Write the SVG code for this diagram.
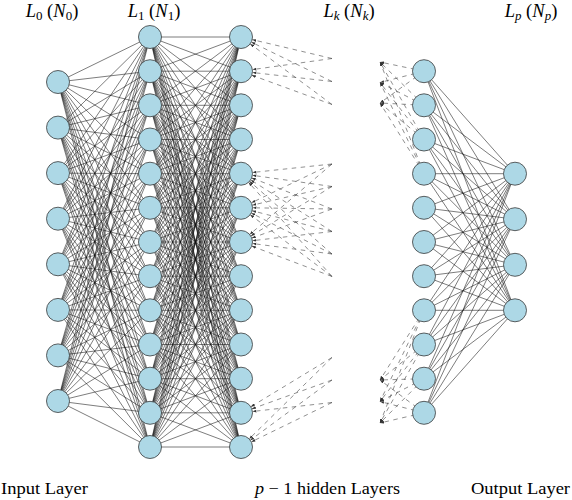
<svg xmlns="http://www.w3.org/2000/svg" width="572" height="500" viewBox="0 0 572 500">
<style>
.n{fill:#ADD8E6;stroke:#3a3a3a;stroke-width:0.8}
.e{fill:none;stroke:#111;stroke-width:0.55}
.d{fill:none;stroke:#333;stroke-width:0.55;stroke-dasharray:4.5 4.5;marker-end:url(#ah)}
.t{font-family:"Liberation Serif","DejaVu Serif",serif;font-size:18.5px;fill:#000}
.b{font-size:17px}
.i{font-style:italic}
.s{font-size:13px}
</style>
<defs>
<marker id="ah" viewBox="0 0 10 10" refX="10" refY="5" markerWidth="4" markerHeight="4" orient="auto" markerUnits="userSpaceOnUse"><path d="M0,1.5 L10,5 L0,8.5 z" fill="#333"/></marker>
</defs>
<rect width="572" height="500" fill="#fff"/>
<g id="connectors">
<g id="l0-l1">
<path class="e" d="M58 82L150 37M58 82L150 71.2M58 82L150 105.3M58 82L150 139.5M58 82L150 173.7M58 82L150 207.8M58 82L150 242M58 82L150 276.2M58 82L150 310.3M58 82L150 344.5M58 82L150 378.7M58 82L150 412.8M58 82L150 447"/>
<path class="e" d="M58 127.6L150 37M58 127.6L150 71.2M58 127.6L150 105.3M58 127.6L150 139.5M58 127.6L150 173.7M58 127.6L150 207.8M58 127.6L150 242M58 127.6L150 276.2M58 127.6L150 310.3M58 127.6L150 344.5M58 127.6L150 378.7M58 127.6L150 412.8M58 127.6L150 447"/>
<path class="e" d="M58 173.1L150 37M58 173.1L150 71.2M58 173.1L150 105.3M58 173.1L150 139.5M58 173.1L150 173.7M58 173.1L150 207.8M58 173.1L150 242M58 173.1L150 276.2M58 173.1L150 310.3M58 173.1L150 344.5M58 173.1L150 378.7M58 173.1L150 412.8M58 173.1L150 447"/>
<path class="e" d="M58 218.7L150 37M58 218.7L150 71.2M58 218.7L150 105.3M58 218.7L150 139.5M58 218.7L150 173.7M58 218.7L150 207.8M58 218.7L150 242M58 218.7L150 276.2M58 218.7L150 310.3M58 218.7L150 344.5M58 218.7L150 378.7M58 218.7L150 412.8M58 218.7L150 447"/>
<path class="e" d="M58 264.3L150 37M58 264.3L150 71.2M58 264.3L150 105.3M58 264.3L150 139.5M58 264.3L150 173.7M58 264.3L150 207.8M58 264.3L150 242M58 264.3L150 276.2M58 264.3L150 310.3M58 264.3L150 344.5M58 264.3L150 378.7M58 264.3L150 412.8M58 264.3L150 447"/>
<path class="e" d="M58 309.9L150 37M58 309.9L150 71.2M58 309.9L150 105.3M58 309.9L150 139.5M58 309.9L150 173.7M58 309.9L150 207.8M58 309.9L150 242M58 309.9L150 276.2M58 309.9L150 310.3M58 309.9L150 344.5M58 309.9L150 378.7M58 309.9L150 412.8M58 309.9L150 447"/>
<path class="e" d="M58 355.4L150 37M58 355.4L150 71.2M58 355.4L150 105.3M58 355.4L150 139.5M58 355.4L150 173.7M58 355.4L150 207.8M58 355.4L150 242M58 355.4L150 276.2M58 355.4L150 310.3M58 355.4L150 344.5M58 355.4L150 378.7M58 355.4L150 412.8M58 355.4L150 447"/>
<path class="e" d="M58 401L150 37M58 401L150 71.2M58 401L150 105.3M58 401L150 139.5M58 401L150 173.7M58 401L150 207.8M58 401L150 242M58 401L150 276.2M58 401L150 310.3M58 401L150 344.5M58 401L150 378.7M58 401L150 412.8M58 401L150 447"/>
</g>
<g id="l1-l2">
<path class="e" d="M150 37L241 37M150 37L241 71.2M150 37L241 105.3M150 37L241 139.5M150 37L241 173.7M150 37L241 207.8M150 37L241 242M150 37L241 276.2M150 37L241 310.3M150 37L241 344.5M150 37L241 378.7M150 37L241 412.8M150 37L241 447"/>
<path class="e" d="M150 71.2L241 37M150 71.2L241 71.2M150 71.2L241 105.3M150 71.2L241 139.5M150 71.2L241 173.7M150 71.2L241 207.8M150 71.2L241 242M150 71.2L241 276.2M150 71.2L241 310.3M150 71.2L241 344.5M150 71.2L241 378.7M150 71.2L241 412.8M150 71.2L241 447"/>
<path class="e" d="M150 105.3L241 37M150 105.3L241 71.2M150 105.3L241 105.3M150 105.3L241 139.5M150 105.3L241 173.7M150 105.3L241 207.8M150 105.3L241 242M150 105.3L241 276.2M150 105.3L241 310.3M150 105.3L241 344.5M150 105.3L241 378.7M150 105.3L241 412.8M150 105.3L241 447"/>
<path class="e" d="M150 139.5L241 37M150 139.5L241 71.2M150 139.5L241 105.3M150 139.5L241 139.5M150 139.5L241 173.7M150 139.5L241 207.8M150 139.5L241 242M150 139.5L241 276.2M150 139.5L241 310.3M150 139.5L241 344.5M150 139.5L241 378.7M150 139.5L241 412.8M150 139.5L241 447"/>
<path class="e" d="M150 173.7L241 37M150 173.7L241 71.2M150 173.7L241 105.3M150 173.7L241 139.5M150 173.7L241 173.7M150 173.7L241 207.8M150 173.7L241 242M150 173.7L241 276.2M150 173.7L241 310.3M150 173.7L241 344.5M150 173.7L241 378.7M150 173.7L241 412.8M150 173.7L241 447"/>
<path class="e" d="M150 207.8L241 37M150 207.8L241 71.2M150 207.8L241 105.3M150 207.8L241 139.5M150 207.8L241 173.7M150 207.8L241 207.8M150 207.8L241 242M150 207.8L241 276.2M150 207.8L241 310.3M150 207.8L241 344.5M150 207.8L241 378.7M150 207.8L241 412.8M150 207.8L241 447"/>
<path class="e" d="M150 242L241 37M150 242L241 71.2M150 242L241 105.3M150 242L241 139.5M150 242L241 173.7M150 242L241 207.8M150 242L241 242M150 242L241 276.2M150 242L241 310.3M150 242L241 344.5M150 242L241 378.7M150 242L241 412.8M150 242L241 447"/>
<path class="e" d="M150 276.2L241 37M150 276.2L241 71.2M150 276.2L241 105.3M150 276.2L241 139.5M150 276.2L241 173.7M150 276.2L241 207.8M150 276.2L241 242M150 276.2L241 276.2M150 276.2L241 310.3M150 276.2L241 344.5M150 276.2L241 378.7M150 276.2L241 412.8M150 276.2L241 447"/>
<path class="e" d="M150 310.3L241 37M150 310.3L241 71.2M150 310.3L241 105.3M150 310.3L241 139.5M150 310.3L241 173.7M150 310.3L241 207.8M150 310.3L241 242M150 310.3L241 276.2M150 310.3L241 310.3M150 310.3L241 344.5M150 310.3L241 378.7M150 310.3L241 412.8M150 310.3L241 447"/>
<path class="e" d="M150 344.5L241 37M150 344.5L241 71.2M150 344.5L241 105.3M150 344.5L241 139.5M150 344.5L241 173.7M150 344.5L241 207.8M150 344.5L241 242M150 344.5L241 276.2M150 344.5L241 310.3M150 344.5L241 344.5M150 344.5L241 378.7M150 344.5L241 412.8M150 344.5L241 447"/>
<path class="e" d="M150 378.7L241 37M150 378.7L241 71.2M150 378.7L241 105.3M150 378.7L241 139.5M150 378.7L241 173.7M150 378.7L241 207.8M150 378.7L241 242M150 378.7L241 276.2M150 378.7L241 310.3M150 378.7L241 344.5M150 378.7L241 378.7M150 378.7L241 412.8M150 378.7L241 447"/>
<path class="e" d="M150 412.8L241 37M150 412.8L241 71.2M150 412.8L241 105.3M150 412.8L241 139.5M150 412.8L241 173.7M150 412.8L241 207.8M150 412.8L241 242M150 412.8L241 276.2M150 412.8L241 310.3M150 412.8L241 344.5M150 412.8L241 378.7M150 412.8L241 412.8M150 412.8L241 447"/>
<path class="e" d="M150 447L241 37M150 447L241 71.2M150 447L241 105.3M150 447L241 139.5M150 447L241 173.7M150 447L241 207.8M150 447L241 242M150 447L241 276.2M150 447L241 310.3M150 447L241 344.5M150 447L241 378.7M150 447L241 412.8M150 447L241 447"/>
</g>
<g id="l2-hidden">
<path class="d" d="M332 58.5L252.2 39.6"/>
<path class="d" d="M332 81.5L251.3 42.1"/>
<path class="d" d="M332 104.5L250.2 43.9"/>
<path class="d" d="M332 58.5L252.4 69.6"/>
<path class="d" d="M332 81.5L252.4 72.5"/>
<path class="d" d="M332 104.5L251.8 75.2"/>
<path class="d" d="M332 164L252.4 172.5"/>
<path class="d" d="M332 186.5L252.4 175.3"/>
<path class="d" d="M332 209L251.7 177.9"/>
<path class="d" d="M332 231.5L250.7 179.9"/>
<path class="d" d="M332 254L249.6 181.3"/>
<path class="d" d="M332 276.5L248.6 182.3"/>
<path class="d" d="M332 164L251.4 202.8"/>
<path class="d" d="M332 186.5L252.2 205.2"/>
<path class="d" d="M332 209L252.5 207.8"/>
<path class="d" d="M332 231.5L252.1 210.7"/>
<path class="d" d="M332 254L251.2 213"/>
<path class="d" d="M332 276.5L250.2 214.7"/>
<path class="d" d="M332 164L249.7 234.5"/>
<path class="d" d="M332 186.5L250.8 236"/>
<path class="d" d="M332 209L251.8 238.1"/>
<path class="d" d="M332 231.5L252.4 240.7"/>
<path class="d" d="M332 254L252.4 243.5"/>
<path class="d" d="M332 276.5L251.8 246.1"/>
<path class="d" d="M332 357.5L250.8 406.8"/>
<path class="d" d="M332 380L251.8 408.9"/>
<path class="d" d="M332 402.5L252.4 411.5"/>
<path class="d" d="M332 357.5L249.2 438.9"/>
<path class="d" d="M332 380L250.3 440.2"/>
<path class="d" d="M332 402.5L251.3 441.9"/>
</g>
<g id="hidden-lk">
<path class="d" d="M424 71.2L380 62"/>
<path class="d" d="M424 71.2L380 82.5"/>
<path class="d" d="M424 71.2L380 103"/>
<path class="d" d="M424 105.3L380 62"/>
<path class="d" d="M424 105.3L380 82.5"/>
<path class="d" d="M424 105.3L380 103"/>
<path class="d" d="M424 139.5L380 62"/>
<path class="d" d="M424 139.5L380 82.5"/>
<path class="d" d="M424 139.5L380 103"/>
<path class="d" d="M424 173.7L380 62"/>
<path class="d" d="M424 173.7L380 82.5"/>
<path class="d" d="M424 173.7L380 103"/>
<path class="d" d="M424 310.3L380 380"/>
<path class="d" d="M424 310.3L380 401.5"/>
<path class="d" d="M424 310.3L380 423"/>
<path class="d" d="M424 344.5L380 380"/>
<path class="d" d="M424 344.5L380 401.5"/>
<path class="d" d="M424 344.5L380 423"/>
<path class="d" d="M424 378.7L380 380"/>
<path class="d" d="M424 378.7L380 401.5"/>
<path class="d" d="M424 378.7L380 423"/>
<path class="d" d="M424 412.8L380 380"/>
<path class="d" d="M424 412.8L380 401.5"/>
<path class="d" d="M424 412.8L380 423"/>
</g>
<g id="lk-lp">
<path class="e" d="M424 71.2L515 173.7M424 71.2L515 219.2M424 71.2L515 264.8M424 71.2L515 310.3"/>
<path class="e" d="M424 105.3L515 173.7M424 105.3L515 219.2M424 105.3L515 264.8M424 105.3L515 310.3"/>
<path class="e" d="M424 139.5L515 173.7M424 139.5L515 219.2M424 139.5L515 264.8M424 139.5L515 310.3"/>
<path class="e" d="M424 173.7L515 173.7M424 173.7L515 219.2M424 173.7L515 264.8M424 173.7L515 310.3"/>
<path class="e" d="M424 207.8L515 173.7M424 207.8L515 219.2M424 207.8L515 264.8M424 207.8L515 310.3"/>
<path class="e" d="M424 242L515 173.7M424 242L515 219.2M424 242L515 264.8M424 242L515 310.3"/>
<path class="e" d="M424 276.2L515 173.7M424 276.2L515 219.2M424 276.2L515 264.8M424 276.2L515 310.3"/>
<path class="e" d="M424 310.3L515 173.7M424 310.3L515 219.2M424 310.3L515 264.8M424 310.3L515 310.3"/>
<path class="e" d="M424 344.5L515 173.7M424 344.5L515 219.2M424 344.5L515 264.8M424 344.5L515 310.3"/>
<path class="e" d="M424 378.7L515 173.7M424 378.7L515 219.2M424 378.7L515 264.8M424 378.7L515 310.3"/>
<path class="e" d="M424 412.8L515 173.7M424 412.8L515 219.2M424 412.8L515 264.8M424 412.8L515 310.3"/>
</g>
</g>
<g id="layer0">
<g id="n0-1"><circle class="n" cx="58" cy="82" r="11.5"/></g>
<g id="n0-2"><circle class="n" cx="58" cy="127.6" r="11.5"/></g>
<g id="n0-3"><circle class="n" cx="58" cy="173.1" r="11.5"/></g>
<g id="n0-4"><circle class="n" cx="58" cy="218.7" r="11.5"/></g>
<g id="n0-5"><circle class="n" cx="58" cy="264.3" r="11.5"/></g>
<g id="n0-6"><circle class="n" cx="58" cy="309.9" r="11.5"/></g>
<g id="n0-7"><circle class="n" cx="58" cy="355.4" r="11.5"/></g>
<g id="n0-8"><circle class="n" cx="58" cy="401" r="11.5"/></g>
</g>
<g id="layer1">
<g id="n1-1"><circle class="n" cx="150" cy="37" r="11.5"/></g>
<g id="n1-2"><circle class="n" cx="150" cy="71.2" r="11.5"/></g>
<g id="n1-3"><circle class="n" cx="150" cy="105.3" r="11.5"/></g>
<g id="n1-4"><circle class="n" cx="150" cy="139.5" r="11.5"/></g>
<g id="n1-5"><circle class="n" cx="150" cy="173.7" r="11.5"/></g>
<g id="n1-6"><circle class="n" cx="150" cy="207.8" r="11.5"/></g>
<g id="n1-7"><circle class="n" cx="150" cy="242" r="11.5"/></g>
<g id="n1-8"><circle class="n" cx="150" cy="276.2" r="11.5"/></g>
<g id="n1-9"><circle class="n" cx="150" cy="310.3" r="11.5"/></g>
<g id="n1-10"><circle class="n" cx="150" cy="344.5" r="11.5"/></g>
<g id="n1-11"><circle class="n" cx="150" cy="378.7" r="11.5"/></g>
<g id="n1-12"><circle class="n" cx="150" cy="412.8" r="11.5"/></g>
<g id="n1-13"><circle class="n" cx="150" cy="447" r="11.5"/></g>
</g>
<g id="layer2">
<g id="n2-1"><circle class="n" cx="241" cy="37" r="11.5"/></g>
<g id="n2-2"><circle class="n" cx="241" cy="71.2" r="11.5"/></g>
<g id="n2-3"><circle class="n" cx="241" cy="105.3" r="11.5"/></g>
<g id="n2-4"><circle class="n" cx="241" cy="139.5" r="11.5"/></g>
<g id="n2-5"><circle class="n" cx="241" cy="173.7" r="11.5"/></g>
<g id="n2-6"><circle class="n" cx="241" cy="207.8" r="11.5"/></g>
<g id="n2-7"><circle class="n" cx="241" cy="242" r="11.5"/></g>
<g id="n2-8"><circle class="n" cx="241" cy="276.2" r="11.5"/></g>
<g id="n2-9"><circle class="n" cx="241" cy="310.3" r="11.5"/></g>
<g id="n2-10"><circle class="n" cx="241" cy="344.5" r="11.5"/></g>
<g id="n2-11"><circle class="n" cx="241" cy="378.7" r="11.5"/></g>
<g id="n2-12"><circle class="n" cx="241" cy="412.8" r="11.5"/></g>
<g id="n2-13"><circle class="n" cx="241" cy="447" r="11.5"/></g>
</g>
<g id="layerk">
<g id="nk-1"><circle class="n" cx="424" cy="71.2" r="11.5"/></g>
<g id="nk-2"><circle class="n" cx="424" cy="105.3" r="11.5"/></g>
<g id="nk-3"><circle class="n" cx="424" cy="139.5" r="11.5"/></g>
<g id="nk-4"><circle class="n" cx="424" cy="173.7" r="11.5"/></g>
<g id="nk-5"><circle class="n" cx="424" cy="207.8" r="11.5"/></g>
<g id="nk-6"><circle class="n" cx="424" cy="242" r="11.5"/></g>
<g id="nk-7"><circle class="n" cx="424" cy="276.2" r="11.5"/></g>
<g id="nk-8"><circle class="n" cx="424" cy="310.3" r="11.5"/></g>
<g id="nk-9"><circle class="n" cx="424" cy="344.5" r="11.5"/></g>
<g id="nk-10"><circle class="n" cx="424" cy="378.7" r="11.5"/></g>
<g id="nk-11"><circle class="n" cx="424" cy="412.8" r="11.5"/></g>
</g>
<g id="layerp">
<g id="np-1"><circle class="n" cx="515" cy="173.7" r="11.5"/></g>
<g id="np-2"><circle class="n" cx="515" cy="219.2" r="11.5"/></g>
<g id="np-3"><circle class="n" cx="515" cy="264.8" r="11.5"/></g>
<g id="np-4"><circle class="n" cx="515" cy="310.3" r="11.5"/></g>
</g>
<g id="labels">
<text class="t" x="52" y="17" text-anchor="middle"><tspan class="i">L</tspan><tspan class="s" dy="3">0</tspan><tspan dy="-3"> (</tspan><tspan class="i">N</tspan><tspan class="s" dy="3">0</tspan><tspan dy="-3">)</tspan></text>
<text class="t" x="154" y="17" text-anchor="middle"><tspan class="i">L</tspan><tspan class="s" dy="3">1</tspan><tspan dy="-3"> (</tspan><tspan class="i">N</tspan><tspan class="s" dy="3">1</tspan><tspan dy="-3">)</tspan></text>
<text class="t" x="349" y="17" text-anchor="middle"><tspan class="i">L</tspan><tspan class="s i" dy="3">k</tspan><tspan dy="-3"> (</tspan><tspan class="i">N</tspan><tspan class="s i" dy="3">k</tspan><tspan dy="-3">)</tspan></text>
<text class="t" x="531" y="17" text-anchor="middle"><tspan class="i">L</tspan><tspan class="s i" dy="3">p</tspan><tspan dy="-3"> (</tspan><tspan class="i">N</tspan><tspan class="s i" dy="3">p</tspan><tspan dy="-3">)</tspan></text>
<text class="t b" x="1" y="494" textLength="87" lengthAdjust="spacingAndGlyphs">Input Layer</text>
<text class="t b" x="255" y="494" textLength="145" lengthAdjust="spacingAndGlyphs"><tspan class="i">p</tspan> − 1 hidden Layers</text>
<text class="t b" x="471" y="494" textLength="99" lengthAdjust="spacingAndGlyphs">Output Layer</text>
</g>
</svg>
